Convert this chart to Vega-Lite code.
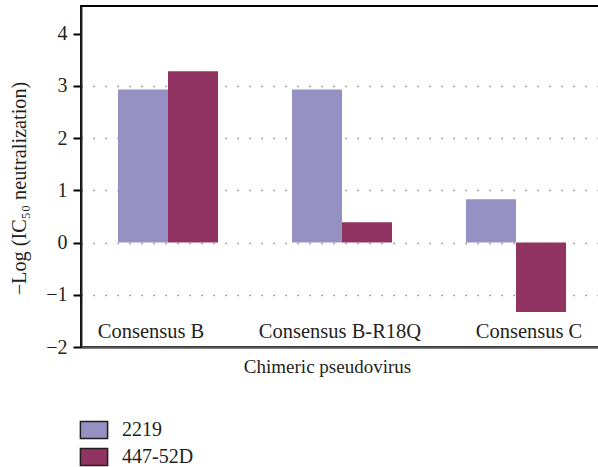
{
  "$schema": "https://vega.github.io/schema/vega-lite/v6.json",
  "autosize": {"type": "none"},
  "padding": {"left": 81, "top": 6, "right": 0, "bottom": 120},
  "width": 522,
  "height": 341,
  "config": {
    "view": {"stroke": "#000000", "strokeWidth": 2},
    "font": "Liberation Serif"
  },
  "data": {
    "values": [
      {"virus": "Consensus B", "antibody": "2219", "value": 2.93},
      {"virus": "Consensus B", "antibody": "447-52D", "value": 3.28},
      {"virus": "Consensus B-R18Q", "antibody": "2219", "value": 2.93},
      {"virus": "Consensus B-R18Q", "antibody": "447-52D", "value": 0.39},
      {"virus": "Consensus C", "antibody": "2219", "value": 0.83},
      {"virus": "Consensus C", "antibody": "447-52D", "value": -1.33}
    ]
  },
  "mark": {"type": "bar"},
  "encoding": {
    "x": {
      "field": "virus",
      "type": "nominal",
      "sort": null,
      "scale": {"paddingInner": 0.425, "paddingOuter": 0.2125},
      "axis": {
        "title": "Chimeric pseudovirus",
        "titleFont": "Liberation Serif",
        "titleFontSize": 19,
        "titleFontWeight": "normal",
        "titleColor": "#231f20",
        "titleBaseline": "alphabetic",
        "titleX": 246,
        "titleY": 25,
        "labelAngle": 0,
        "labelFont": "Liberation Serif",
        "labelFontSize": 20.5,
        "labelColor": "#231f20",
        "labelBaseline": "alphabetic",
        "labelPadding": -10,
        "labelOffset": {
          "condition": [
            {"test": "datum.value === 'Consensus B'", "value": -17},
            {"test": "datum.value === 'Consensus C'", "value": 13}
          ],
          "value": -2
        },
        "ticks": false,
        "tickSize": 0,
        "domainColor": "#555555",
        "domainWidth": 2.5,
        "grid": false
      }
    },
    "xOffset": {"field": "antibody", "type": "nominal", "scale": {"paddingInner": 0, "paddingOuter": 0}},
    "y": {
      "field": "value",
      "type": "quantitative",
      "scale": {"domain": [-2, 4.53], "nice": false, "zero": false},
      "axis": {
        "title": "−Log (IC₅₀ neutralization)",
        "titleFont": "Liberation Serif",
        "titleFontSize": 20.3,
        "titleFontWeight": "normal",
        "titleColor": "#231f20",
        "titleBaseline": "alphabetic",
        "titleAlign": "center",
        "titleAngle": -90,
        "titleX": -56,
        "titleY": 182,
        "values": [-2, -1, 0, 1, 2, 3, 4],
        "labelFont": "Liberation Serif",
        "labelFontSize": 20,
        "labelColor": "#231f20",
        "labelPadding": 6,
        "tickSize": 8,
        "tickWidth": 2,
        "tickColor": "#000000",
        "domainColor": "#222222",
        "domainWidth": 2,
        "grid": true,
        "gridColor": "#777777",
        "gridWidth": 1.3,
        "gridDash": [1.3, 10.7],
        "gridOpacity": {"condition": {"test": "datum.value >= 4 || datum.value <= -2", "value": 0}, "value": 1}
      }
    },
    "color": {
      "field": "antibody",
      "type": "nominal",
      "scale": {"domain": ["2219", "447-52D"], "range": ["#9592c3", "#923461"]},
      "legend": {
        "title": null,
        "orient": "none",
        "legendX": 3,
        "legendY": 414,
        "padding": 0,
        "symbolType": "M-1.6,-1H1.6V1H-1.6Z",
        "symbolSize": 289,
        "symbolStrokeColor": "#231f20",
        "symbolStrokeWidth": 1.5,
        "symbolOpacity": 1,
        "labelFont": "Liberation Serif",
        "labelFontSize": 20,
        "labelColor": "#231f20",
        "labelOffset": 18,
        "rowPadding": 3
      }
    }
  }
}
